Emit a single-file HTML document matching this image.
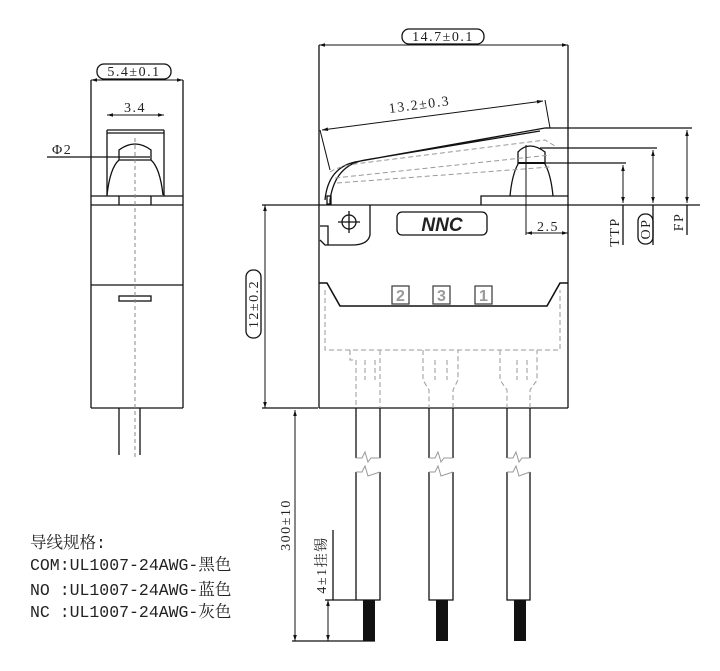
<!DOCTYPE html>
<html><head><meta charset="utf-8"><style>
body{margin:0;background:#fff}
svg{display:block}
text{font-family:"Liberation Serif","Noto Serif CJK SC",serif;fill:#222}
.t{font-family:"Liberation Mono","Noto Serif CJK SC",monospace;font-size:16.5px;fill:#222}
.d{font-size:14px;letter-spacing:1.5px}
</style></head><body>
<svg width="720" height="671" viewBox="0 0 720 671" xmlns="http://www.w3.org/2000/svg">
<defs>
<marker id="a" viewBox="0 0 10 10" refX="10" refY="5" markerWidth="8" markerHeight="6" orient="auto-start-reverse"><path d="M0,2 L10,5 L0,8z" fill="#111"/></marker>
</defs>
<g stroke="#111" stroke-width="1.3" fill="none">
<line x1="91" y1="80" x2="91" y2="408"/><line x1="183" y1="80" x2="183" y2="408"/>
<line x1="91" y1="408" x2="183" y2="408"/>
<line x1="91" y1="196" x2="183" y2="196"/><line x1="91" y1="205" x2="183" y2="205"/>
<line x1="91" y1="285" x2="183" y2="285"/>
<line x1="119" y1="196" x2="119" y2="205"/><line x1="151" y1="196" x2="151" y2="205"/>
<rect x="119" y="296" width="32" height="5"/>
<line x1="107" y1="130" x2="107" y2="196"/><line x1="164" y1="130" x2="164" y2="196"/>
<line x1="107" y1="130" x2="164" y2="130"/><line x1="107" y1="133" x2="164" y2="133"/>
<path d="M119,160 L119,150 Q135,138 151,150 L151,160 Q160,168 163,195 M119,160 L151,160 M119,160 Q110,168 107,195"/>
<line x1="47" y1="157" x2="150" y2="157"/>
<line x1="119" y1="408" x2="119" y2="455"/><line x1="140" y1="408" x2="140" y2="455"/>
<line x1="319" y1="45" x2="319" y2="408"/><line x1="568" y1="45" x2="568" y2="408"/>
<line x1="319" y1="408" x2="568" y2="408"/>
<line x1="262" y1="205" x2="700" y2="205"/>
<path d="M481,205 L481,196 L568,196"/>
<path d="M510,196 Q512,175 518,164 L518,152 Q529,140 545,152 L545,164 Q551,175 553,196"/>
<line x1="518" y1="163" x2="545" y2="163" stroke-width="2"/>
<path d="M370,205 L370,235 Q368,245 352,245 L325,245 L320,240 M320,226 L328,226 L328,245"/>
<circle cx="349" cy="222" r="7"/><line x1="338" y1="222" x2="360" y2="222"/><line x1="349" y1="211" x2="349" y2="233"/>
<rect x="397" y="212" width="90" height="23" rx="5"/>
<path d="M319,283 L327,283 L340,306 L547,306 L560,283 L568,283" stroke-width="1.6"/>
<path d="M365,160 Q335,165 330,200 L330,205 M325,200 Q328,168 355,162 L545,128 L548,128 M365,160 L540,131"/>
<rect x="327" y="196" width="4" height="8"/>
<line x1="322" y1="130" x2="543" y2="101" marker-start="url(#a)" marker-end="url(#a)" stroke-width="1"/>
<line x1="320" y1="130" x2="330" y2="170" stroke-width="1"/>
<line x1="545" y1="100" x2="550" y2="128" stroke-width="1"/>
<g stroke="#999" stroke-dasharray="5,3" stroke-width="1">
<path d="M330,172 Q340,166 355,164 L545,140 L555,146"/>
<path d="M335,178 L550,155"/><path d="M337,183 L550,167"/>
<path d="M325,290 L325,350 L560,350 L560,290"/>
<path d="M350,350 L350,360 L356,360 L356,408 M380,350 L380,408 M365,360 L365,380 M375,360 L375,380"/>
<path d="M423,350 L423,380 L429,390 L429,408 M453,408 L453,390 L458,380 L458,350 M435,360 L435,380 M447,360 L447,380"/>
<path d="M500,350 L500,380 L507,390 L507,408 M530,408 L530,390 L537,380 L537,350 M517,360 L517,380 M527,360 L527,380"/>
</g>
<path d="M356,408 L356,458 M380,408 L380,458 M429,408 L429,458 M453,408 L453,458 M507,408 L507,458 M530,408 L530,458"/>
<path d="M356,472 L356,600 L380,600 L380,472 M429,472 L429,600 L453,600 L453,472 M507,472 L507,600 L530,600 L530,472"/>
<g stroke="#999" stroke-width="1"><path d="M356,458 L362,458 L365,452 L368,462 L371,458 L380,458 M356,472 L362,472 L365,466 L368,476 L380,472 M429,458 L435,458 L438,452 L441,462 L444,458 L453,458 M429,472 L435,472 L438,466 L441,476 L453,472 M507,458 L513,458 L516,452 L519,462 L522,458 L530,458 M507,472 L513,472 L516,466 L519,476 L530,472"/></g>
<line x1="319" y1="45" x2="568" y2="45" marker-start="url(#a)" marker-end="url(#a)" stroke-width="1"/>
<line x1="91" y1="80" x2="183" y2="80" marker-start="url(#a)" marker-end="url(#a)" stroke-width="1"/>
<line x1="107" y1="115" x2="164" y2="115" marker-start="url(#a)" marker-end="url(#a)" stroke-width="1"/>
<line x1="265" y1="205" x2="265" y2="408" marker-start="url(#a)" marker-end="url(#a)" stroke-width="1"/>
<line x1="262" y1="408" x2="318" y2="408"/>
<line x1="295" y1="410" x2="295" y2="641" marker-start="url(#a)" marker-end="url(#a)" stroke-width="1"/>
<line x1="292" y1="641" x2="375" y2="641"/>
<line x1="328" y1="600" x2="328" y2="641" marker-start="url(#a)" marker-end="url(#a)" stroke-width="1"/>
<line x1="325" y1="600" x2="356" y2="600"/>
<line x1="333" y1="530" x2="333" y2="600"/>
<line x1="526" y1="145" x2="526" y2="235" stroke-width="1"/>
<line x1="526" y1="233" x2="568" y2="233" marker-start="url(#a)" marker-end="url(#a)" stroke-width="1"/>
<line x1="546" y1="128" x2="692" y2="128"/><line x1="540" y1="148" x2="657" y2="148"/><line x1="545" y1="163" x2="626" y2="163"/>
<line x1="623" y1="165" x2="623" y2="203" marker-start="url(#a)" marker-end="url(#a)" stroke-width="1"/>
<line x1="653" y1="150" x2="653" y2="203" marker-start="url(#a)" marker-end="url(#a)" stroke-width="1"/>
<line x1="687" y1="130" x2="687" y2="203" marker-start="url(#a)" marker-end="url(#a)" stroke-width="1"/>
<line x1="623" y1="205" x2="623" y2="245"/><line x1="653" y1="205" x2="653" y2="245"/><line x1="687" y1="205" x2="687" y2="235"/>
<rect x="402" y="29" width="82" height="15" rx="7"/>
<rect x="97" y="64" width="74" height="15" rx="7"/>
<rect x="246" y="270" width="15" height="68" rx="7"/>
<rect x="638" y="214" width="15" height="30" rx="7"/>
</g>
<g fill="#111"><rect x="363" y="600" width="12" height="41"/><rect x="436" y="600" width="12" height="41"/><rect x="514" y="600" width="12" height="41"/></g>
<g stroke="#888" stroke-dasharray="4,3" stroke-width="1"><line x1="135" y1="138" x2="135" y2="460"/></g>
<g fill="none" stroke="#444" stroke-width="1.3"><rect x="392" y="286" width="17" height="18"/><rect x="433" y="286" width="17" height="18"/><rect x="475" y="286" width="17" height="18"/></g>
<g font-size="16" text-anchor="middle" font-weight="bold"><text x="400.5" y="301" style="fill:#999;font-family:'Liberation Sans'">2</text><text x="441.5" y="301" style="fill:#999;font-family:'Liberation Sans'">3</text><text x="483.5" y="301" style="fill:#999;font-family:'Liberation Sans'">1</text></g>
<text x="442" y="231" font-size="19" font-weight="bold" font-style="italic" text-anchor="middle" style="font-family:'Liberation Sans'">NNC</text>
<g class="d">
<text x="443" y="41" text-anchor="middle">14.7±0.1</text>
<text x="134" y="76" text-anchor="middle">5.4±0.1</text>
<text x="135" y="112" text-anchor="middle">3.4</text>
<text x="52" y="154">Φ2</text>
<text x="548" y="231" text-anchor="middle">2.5</text>
<text transform="translate(420,109) rotate(-7.5)" text-anchor="middle">13.2±0.3</text>
<text transform="translate(258,304) rotate(-90)" text-anchor="middle">12±0.2</text>
<text transform="translate(290,525) rotate(-90)" text-anchor="middle">300±10</text>
<text transform="translate(326,565) rotate(-90)" text-anchor="middle">4±1挂锡</text>
<text transform="translate(619,232) rotate(-90)" text-anchor="middle">TTP</text>
<text transform="translate(650,229) rotate(-90)" text-anchor="middle">OP</text>
<text transform="translate(683,222) rotate(-90)" text-anchor="middle">FP</text>
</g>
<text class="t" x="30" y="548">导线规格:</text>
<text class="t" x="30" y="570">COM:UL1007-24AWG-黑色</text>
<text class="t" x="30" y="595">NO :UL1007-24AWG-蓝色</text>
<text class="t" x="30" y="617">NC :UL1007-24AWG-灰色</text>
</svg>
</body></html>
